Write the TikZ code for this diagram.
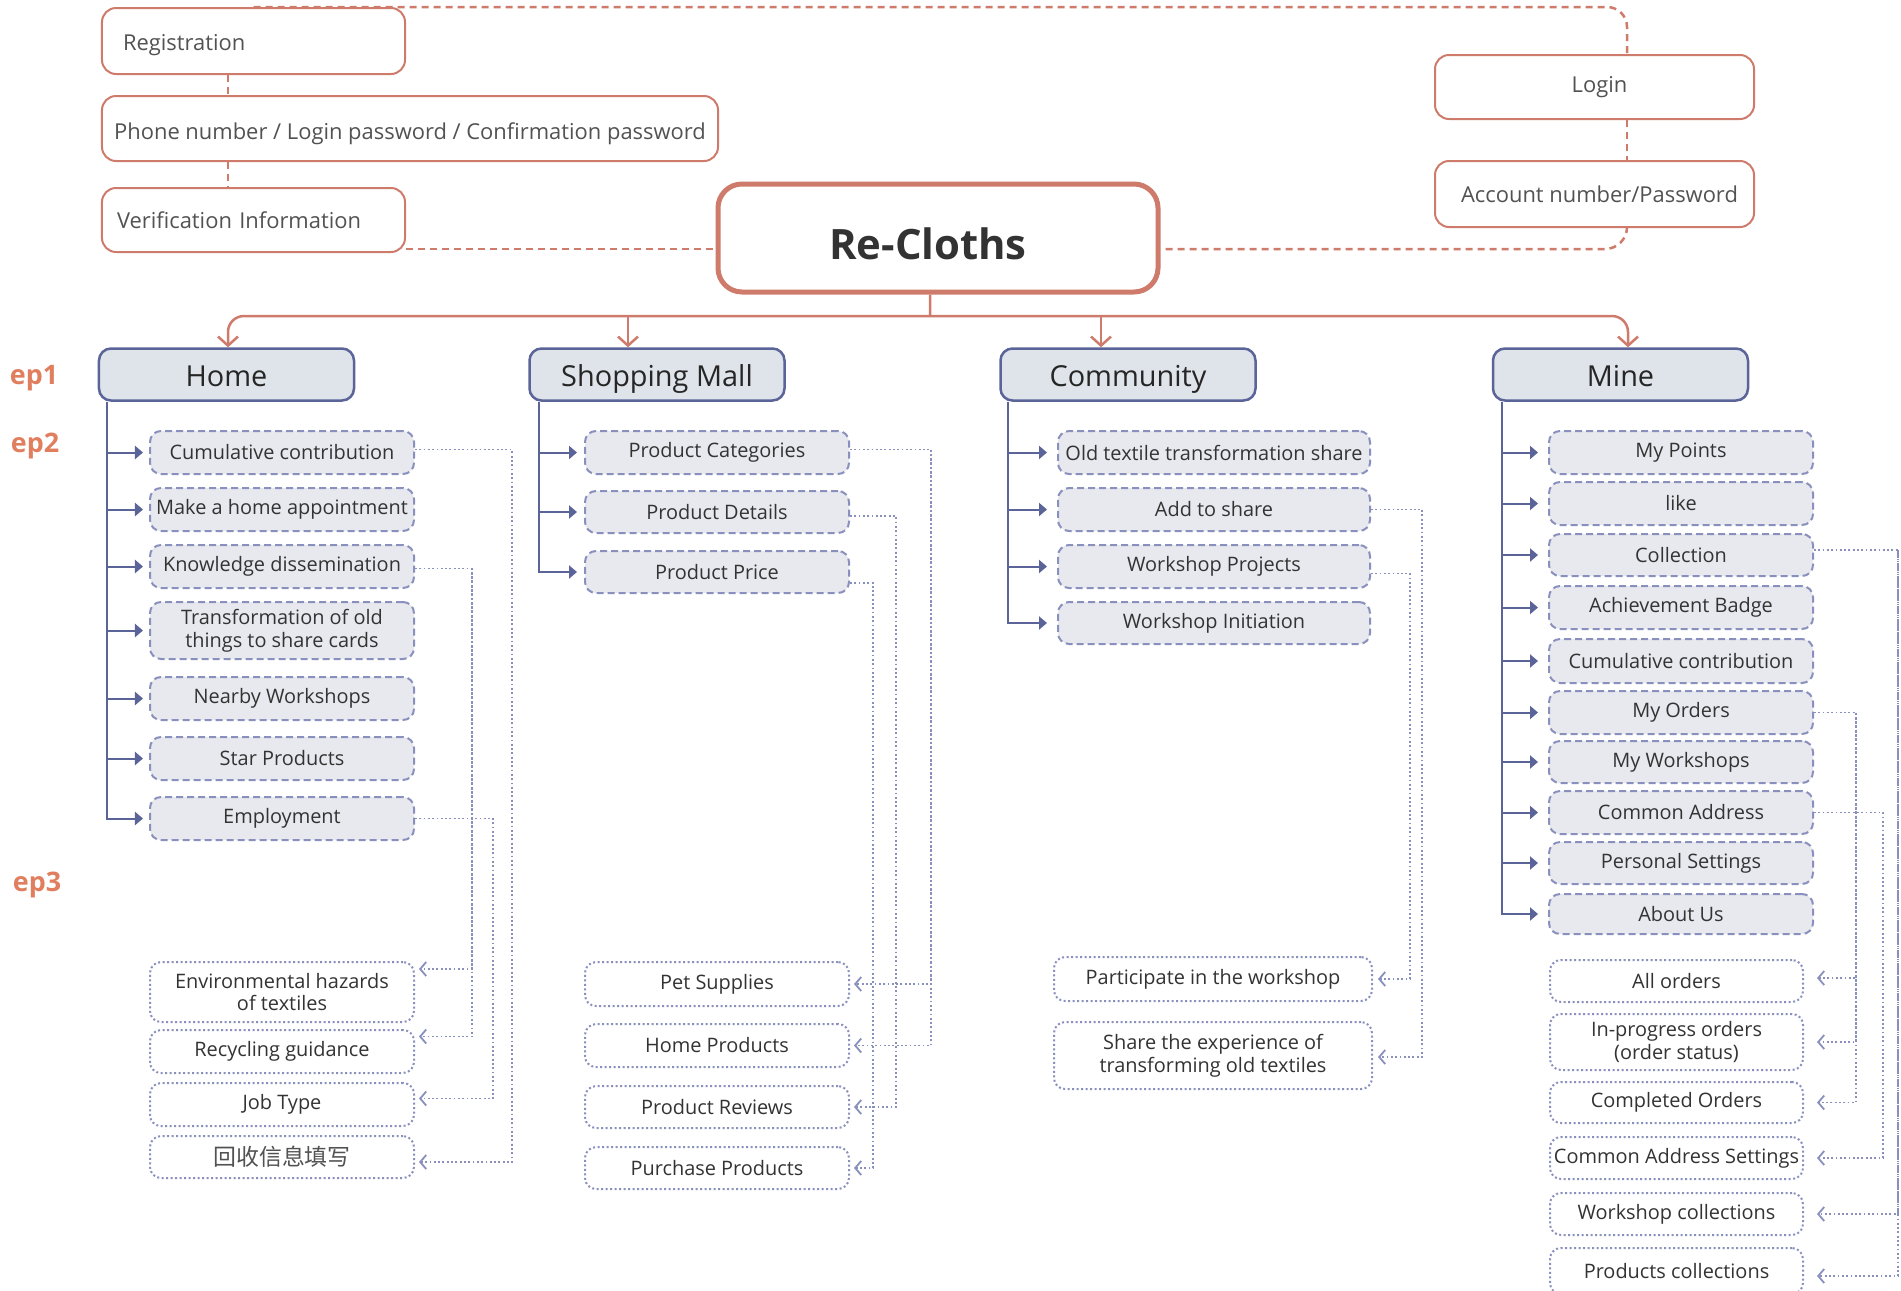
\documentclass[tikz,border=0pt]{standalone}
\usepackage{fontspec}
\setmainfont{Open Sans}
\newfontfamily\cjk{Noto Sans CJK SC}
\usetikzlibrary{arrows.meta}
\definecolor{rc}{HTML}{CF7B6C}
\definecolor{epc}{HTML}{E07E5E}
\definecolor{bl}{HTML}{5B6499}
\definecolor{hfill}{HTML}{DFE3EA}
\definecolor{sfill}{HTML}{E7E9EE}
\definecolor{sb}{HTML}{8A90BE}
\definecolor{txt}{HTML}{333333}
\begin{document}
\begin{tikzpicture}[x=1bp,y=-1bp,
  topbox/.style={draw=rc, line width=2bp, rounded corners=14bp, fill=white, text=txt!85, font=\fontsize{22}{26}\selectfont, inner sep=0pt},
  rootbox/.style={draw=rc, line width=5bp, rounded corners=24bp, fill=white, text=txt, font=\bfseries\fontsize{42}{48}\selectfont, inner sep=0pt, minimum width=440bp, minimum height=108bp},
  topdash/.style={draw=rc, line width=2.5bp, dash pattern=on 7bp off 5bp},
  treeline/.style={draw=rc, line width=2.5bp},
  treetip/.style={-{Straight Barb[length=9bp,width=20bp]}},
  headbox/.style={draw=bl, line width=2.5bp, fill=hfill, rounded corners=12bp, minimum width=255bp, minimum height=52bp, font=\fontsize{29}{32}\selectfont, text=black!85, inner sep=0pt, text height=26bp, text depth=2.5bp},
  subbox/.style={draw=sb, line width=2bp, dash pattern=on 7bp off 4bp, fill=sfill, rounded corners=11bp, minimum height=43bp, font=\fontsize{20}{23}\selectfont, text=txt, align=center, inner sep=0pt},
  leafbox/.style={draw=sb, line width=2bp, dash pattern=on 2bp off 2.5bp, fill=white, rounded corners=11bp, minimum height=43bp, font=\fontsize{20}{23}\selectfont, text=txt, align=center, inner sep=0pt},
  trunkline/.style={draw=bl, line width=2bp},
  tarrow/.style={trunkline, -{Triangle[length=8bp,width=13bp]}},
  dotc/.style={draw=sb, line width=1.8bp, dash pattern=on 1.8bp off 2.5bp},
  dotarrow/.style={dotc, -{Straight Barb[length=6bp,width=14bp]}},
  eplabel/.style={text=epc, font=\bfseries\fontsize{27}{30}\selectfont, inner sep=0pt}
]
\useasboundingbox (0,0) rectangle (1901,1290);
\clip (0,0) rectangle (1901,1290);
\fill[white] (0,0) rectangle (1901,1290);

% ---------- top section ----------
\node[topbox, minimum width=303bp, minimum height=66bp, text width=261bp, align=left, text height=20bp, text depth=1bp] (reg) at (253.5,41) {Registration};
\node[topbox, minimum width=616bp, minimum height=65bp, text height=22bp, text depth=0.6bp] (phone) at (410,128.5) {Phone number / Login password / Confirmation password};
\node[topbox, minimum width=303bp, minimum height=64bp, text width=273bp, align=left] (verif) at (253.5,220) {Verification Information};
\node[rootbox, text height=42bp, text depth=0bp] (recloths) at (938,238) {Re-Cloths\hspace*{20bp}};
\node[topbox, minimum width=319bp, minimum height=64bp] (login) at (1594.5,87) {\hspace*{10bp}Login};
\node[topbox, minimum width=319bp, minimum height=66bp] (account) at (1594.5,194) {\hspace*{10bp}Account number/Password};

\coordinate (rx) at (228,0);
\coordinate (yl) at (0,249);
\draw[topdash, rounded corners=20bp] (reg.north) -| ([xshift=32.5bp]login.north);
\draw[topdash] ([xshift=32.5bp]login.south) -- ([xshift=32.5bp]account.north);
\draw[topdash, rounded corners=22bp] ([xshift=32.5bp]account.south) |- (recloths.east |- yl);
\draw[topdash] (verif.east |- yl) -- (recloths.west |- yl);
\draw[topdash] (reg.south -| rx) -- (phone.north -| rx);
\draw[topdash] (phone.south -| rx) -- (verif.north -| rx);

% ---------- headers ----------
\node[headbox] (home) at (226.5,374.5) {Home};
\node[headbox] (mall) at (657,374.5) {Shopping Mall};
\node[headbox] (comm) at (1128,374.5) {Community};
\node[headbox] (mine) at (1620.5,374.5) {Mine};

\node[eplabel] (ep1) at (34,378) {ep1};
\node[eplabel] (ep2) at (35,446) {ep2};
\node[eplabel] (ep3) at (37,885) {ep3};

% tree connectors
\coordinate (rj) at (930,316);
\coordinate (ma) at ([xshift=-29bp]mall.north);
\coordinate (ca) at ([xshift=-27bp]comm.north);
\draw[treeline] ([xshift=-8bp]recloths.south) -- (rj);
\draw[treeline, treetip, rounded corners=16bp] (rj) -| ([xshift=1.5bp]home.north);
\draw[treeline, treetip, rounded corners=16bp] (rj) -| ([xshift=7.5bp]mine.north);
\draw[treeline, treetip] (ma |- rj) -- (ma);
\draw[treeline, treetip] (ca |- rj) -- (ca);

% ---------- Home column ----------
\begin{scope}[every node/.append style={minimum width=264bp}]
\node[subbox] (cum1) at (282,452.5) {Cumulative contribution};
\node[subbox] (appt) at (282,509.5) {Make a home appointment};
\node[subbox] (know) at (282,566.5) {Knowledge dissemination};
\node[subbox, minimum height=57bp] (trans) at (282,630.5) {Transformation of old\\things to share cards};
\node[subbox] (nearby) at (282,698.5) {Nearby Workshops};
\node[subbox] (star) at (282,758.5) {Star Products};
\node[subbox] (emp) at (282,818.5) {Employment};
\node[leafbox, minimum height=60bp] (env) at (282,992) {Environmental hazards\\of textiles};
\node[leafbox] (recyc) at (282,1051.5) {Recycling guidance};
\node[leafbox] (job) at (282,1104.5) {Job Type};
\node[leafbox, minimum height=42bp, text=txt!85] (cn) at (282,1157) {\cjk\fontsize{23}{26}\selectfont 回收信息填写};
\end{scope}
\coordinate (ht) at ([xshift=9bp]home.south west);
\draw[tarrow] (ht) |- ([xshift=-6bp]emp.west);
\foreach \n in {cum1,appt,know,trans,nearby,star}
  \draw[tarrow] (ht |- \n.west) -- ([xshift=-6bp]\n.west);
\draw[dotarrow] ([yshift=3bp]cum1.east) -- ++(97,0) |- ([xshift=4bp,yshift=-5bp]cn.east);
\draw[dotarrow] ([yshift=-2bp]know.east) -- ++(57,0) |- ([xshift=4bp,yshift=15bp]recyc.east);
\draw[dotarrow] ([xshift=57bp,yshift=-2bp]know.east) |- ([xshift=4bp,yshift=23bp]env.east);
\draw[dotarrow] (emp.east) -- ++(78,0) |- ([xshift=4bp,yshift=6bp]job.east);

% ---------- Shopping Mall column ----------
\begin{scope}[every node/.append style={minimum width=264bp}]
\node[subbox] (pcat) at (717,452.5) {Product Categories};
\node[subbox, minimum height=42bp] (pdet) at (717,512) {Product Details};
\node[subbox, minimum height=42bp] (pprice) at (717,572) {Product Price};
\node[leafbox, minimum height=44bp] (pet) at (717,984) {Pet Supplies};
\node[leafbox] (homep) at (717,1045.5) {Home Products};
\node[leafbox, minimum height=42bp] (review) at (717,1107) {Product Reviews};
\node[leafbox, minimum height=42bp] (purchase) at (717,1168) {Purchase Products};
\end{scope}
\coordinate (mt) at ([xshift=11bp]mall.south west);
\draw[tarrow] (mt) |- ([xshift=-7bp]pprice.west);
\foreach \n in {pcat,pdet}
  \draw[tarrow] (mt |- \n.west) -- ([xshift=-7bp]\n.west);
\draw[dotarrow] ([yshift=3bp]pcat.east) -- ++(81,0) |- ([xshift=4bp]homep.east);
\draw[dotarrow] ([xshift=81bp,yshift=3bp]pcat.east) |- ([xshift=4bp]pet.east);
\draw[dotarrow] ([yshift=-4bp]pdet.east) -- ++(46,0) |- ([xshift=4bp]review.east);
\draw[dotarrow] ([yshift=-11bp]pprice.east) -- ++(23,0) |- ([xshift=4bp]purchase.east);

% ---------- Community column ----------
\begin{scope}[every node/.append style={minimum width=312bp}]
\node[subbox] (old) at (1214,452.5) {Old textile transformation share};
\node[subbox] (add) at (1214,509.5) {Add to share};
\node[subbox] (wproj) at (1214,566.5) {Workshop Projects};
\node[subbox, minimum height=42bp] (winit) at (1214,623) {Workshop Initiation};
\end{scope}
\node[leafbox, minimum width=318bp, minimum height=44bp] (part) at (1213,979) {Participate in the workshop};
\node[leafbox, minimum width=318bp, minimum height=67bp] (shareexp) at (1213,1055.5) {Share the experience of\\transforming old textiles};
\coordinate (ct) at ([xshift=9bp]comm.south west);
\draw[tarrow] (ct) |- ([xshift=-10bp]winit.west);
\foreach \n in {old,add,wproj}
  \draw[tarrow] (ct |- \n.west) -- ([xshift=-10bp]\n.west);
\draw[dotarrow] (add.east) -- ++(51,0) |- ([xshift=5bp,yshift=-1.5bp]shareexp.east);
\draw[dotarrow] ([yshift=-7bp]wproj.east) -- ++(39,0) |- ([xshift=5bp]part.east);

% ---------- Mine column ----------
\begin{scope}[every node/.append style={minimum width=264bp}]
\node[subbox] (points) at (1681,452.5) {My Points};
\node[subbox] (like) at (1681,503.5) {like};
\node[subbox, minimum height=42bp] (coll) at (1681,555) {Collection};
\node[subbox] (badge) at (1681,607.5) {Achievement Badge};
\node[subbox, minimum height=44bp] (cum2) at (1681,661) {Cumulative contribution};
\node[subbox] (orders) at (1681,712.5) {My Orders};
\node[subbox, minimum height=42bp] (myws) at (1681,762) {My Workshops};
\node[subbox] (addr) at (1681,812.5) {Common Address};
\node[subbox, minimum height=42bp] (settings) at (1681,863) {Personal Settings};
\node[subbox, minimum height=40bp] (about) at (1681,914) {About Us};
\end{scope}
\begin{scope}[every node/.append style={minimum width=253bp}]
\node[leafbox, minimum height=42bp] (allord) at (1676.5,981) {All orders};
\node[leafbox, minimum height=56bp] (inprog) at (1676.5,1042) {In-progress orders\\(order status)};
\node[leafbox, minimum height=41bp] (completed) at (1676.5,1102.5) {Completed Orders};
\node[leafbox, minimum height=42bp] (addrset) at (1676.5,1158) {Common Address Settings};
\node[leafbox, minimum height=42bp] (wscoll) at (1676.5,1214) {Workshop collections};
\node[leafbox, minimum height=46bp] (pcoll) at (1676.5,1271) {Products collections};
\end{scope}
\coordinate (nt) at ([xshift=10bp]mine.south west);
\draw[tarrow] (nt) |- ([xshift=-10bp]about.west);
\foreach \n in {points,like,coll,badge,cum2,orders,myws,addr,settings}
  \draw[tarrow] (nt |- \n.west) -- ([xshift=-10bp]\n.west);
\draw[dotarrow] ([yshift=5bp]coll.east) -- ++(84,0) |- ([xshift=13bp,yshift=-5bp]pcoll.east);
\draw[dotarrow] ([xshift=84bp,yshift=5bp]coll.east) |- ([xshift=13bp]wscoll.east);
\draw[dotarrow] (orders.east) -- ++(42,0) |- ([xshift=13bp]completed.east);
\draw[dotarrow] ([xshift=42bp]orders.east) |- ([xshift=13bp,yshift=3bp]allord.east);
\draw[dotarrow] ([xshift=42bp]orders.east) |- ([xshift=13bp]inprog.east);
\draw[dotarrow] (addr.east) -- ++(69,0) |- ([xshift=13bp]addrset.east);
\end{tikzpicture}
\end{document}
